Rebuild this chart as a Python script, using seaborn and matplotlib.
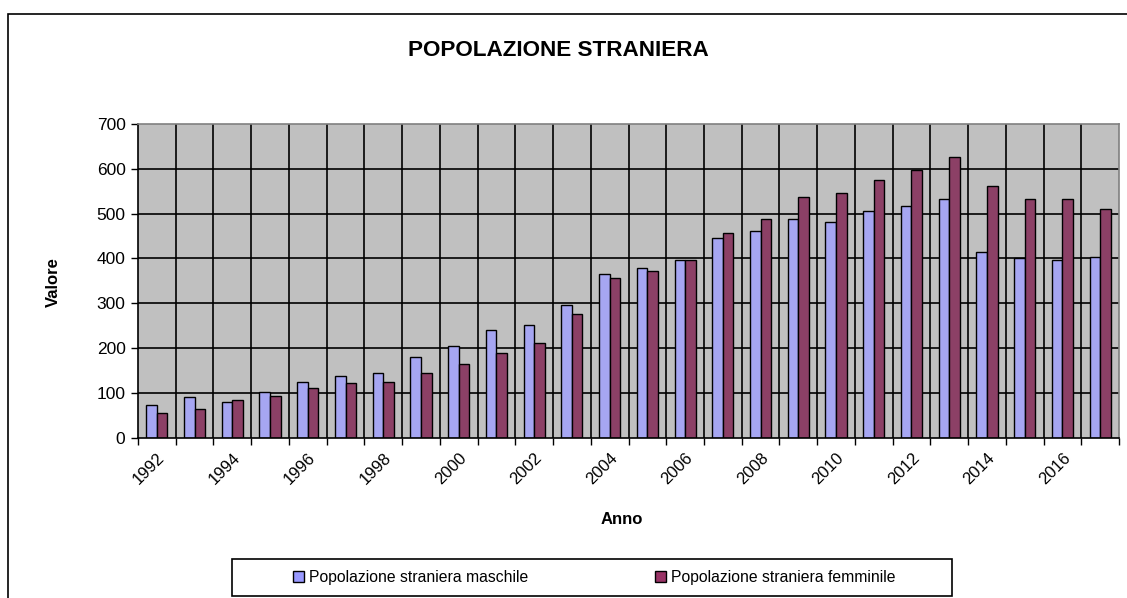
import pandas as pd
import numpy as np
import matplotlib.pyplot as plt
import seaborn as sns
from matplotlib.patches import Rectangle

anni = list(range(1992, 2018))
maschi = [73, 91, 80, 101, 124, 138, 145, 179, 204, 240, 251, 295, 365,
          379, 396, 445, 462, 489, 481, 506, 517, 532, 415, 400, 396, 404]
femmine = [55, 65, 84, 92, 112, 121, 124, 145, 164, 189, 211, 277, 357,
           371, 396, 456, 488, 536, 547, 576, 598, 626, 561, 532, 532, 510]
serie = ["Popolazione straniera maschile", "Popolazione straniera femminile"]
colori = ["#9999FF", "#993366"]

df = pd.DataFrame({
    "Anno": [str(a) for a in anni] * 2,
    "Valore": maschi + femmine,
    "Serie": [serie[0]] * len(anni) + [serie[1]] * len(anni),
})

sns.set_style("white")
plt.rcParams["font.family"] = ["Liberation Sans", "DejaVu Sans"]
plt.rcParams["text.color"] = "black"
plt.rcParams["xtick.color"] = "black"
plt.rcParams["ytick.color"] = "black"

fig = plt.figure(figsize=(11.27, 5.98), dpi=100)
W, H = 1127, 598
ax = fig.add_axes([138 / W, 1 - 437.7 / H, (1119 - 138) / W, (437.7 - 124) / H])

sns.barplot(data=df, x="Anno", y="Valore", hue="Serie", palette=colori,
            width=0.56, edgecolor="black", linewidth=1, ax=ax, legend=False)

ax.set_facecolor("#C0C0C0")
ax.set_xlim(-0.5, len(anni) - 0.5)
ax.set_ylim(0, 700)
ax.set_yticks(np.arange(0, 701, 100))
ax.tick_params(axis="y", labelsize=12.5, length=5, width=1, direction="out", left=True, pad=4)

# gridlines at category boundaries
bounds = np.arange(-0.5, len(anni), 1.0)
ax.set_xticks(bounds, minor=True)
ax.set_xticks(np.arange(0, len(anni), 2))
ax.set_xticklabels([str(a) for a in anni[::2]], rotation=45, ha="right",
                   rotation_mode="anchor", fontsize=12)
ax.tick_params(axis="x", which="major", length=0, pad=9)
ax.tick_params(axis="x", which="minor", length=5, width=1, direction="out", bottom=True)
ax.grid(False)
for b in bounds[1:-1]:
    ax.axvline(b, color="black", linewidth=1.2, zorder=0.5)
for v in range(100, 700, 100):
    ax.axhline(v, color="black", linewidth=1.2, zorder=0.5)
ax.set_axisbelow(True)

for s in ["top", "right"]:
    ax.spines[s].set_color("#808080")
    ax.spines[s].set_linewidth(1.2)
for s in ["left", "bottom"]:
    ax.spines[s].set_color("black")
    ax.spines[s].set_linewidth(1.2)

ax.set_xlabel("")
ax.set_ylabel("")
fig.text(53 / W, 1 - 282 / H, "Valore", rotation=90, fontsize=12,
         fontweight="bold", ha="center", va="center")
fig.text(622 / W, 1 - 520 / H, "Anno", fontsize=12, fontweight="bold",
         ha="center", va="center")
fig.text(558 / W, 1 - 51 / H, "POPOLAZIONE STRANIERA", fontsize=16.2,
         fontweight="bold", ha="center", va="center")

# outer chart border
fig.patches.append(Rectangle((8 / W, -0.05), 1.2, 1 - 14 / H + 0.05,
                             transform=fig.transFigure, fill=False,
                             edgecolor="black", linewidth=1.2))

# legend box drawn separately
fig.patches.append(Rectangle((232 / W, 1 - 596 / H), (952 - 232) / W, 37 / H,
                             transform=fig.transFigure, facecolor="white",
                             edgecolor="black", linewidth=1.2))
handles = [Rectangle((0, 0), 1, 1, facecolor=c, edgecolor="black", linewidth=1)
           for c in colori]
leg = fig.legend(handles, serie, loc="center", bbox_to_anchor=(594 / W, 1 - 577.5 / H),
                 ncol=2, fontsize=11.3, frameon=False,
                 handlelength=0.7, handleheight=0.7, handletextpad=0.3,
                 columnspacing=8.1)

fig.savefig("out.png", dpi=100)
